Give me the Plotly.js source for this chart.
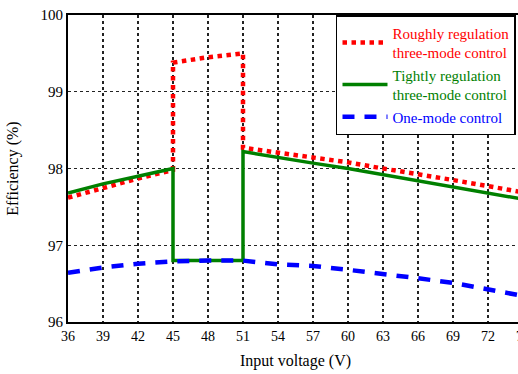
<!DOCTYPE html>
<html><head><meta charset="utf-8">
<script src="https://cdn.plot.ly/plotly-3.0.1.min.js"></script>
<style>html,body{margin:0;padding:0;overflow:hidden;background:#fff}#plot{width:530px;height:374px}</style>
</head><body><div id="plot"></div>
<script>
const roughX = [36, 39, 42, 45, 45, 48, 51, 51, 54, 57, 60, 63, 66, 69, 72, 75];
const roughY = [97.62, 97.75, 97.87, 97.98, 99.38, 99.45, 99.5, 98.27, 98.21, 98.15, 98.08, 98.0, 97.93, 97.85, 97.77, 97.69];
const tightX = [36, 39, 42, 45, 45, 48, 51, 51, 54, 57, 60, 63, 66, 69, 72, 75];
const tightY = [97.68, 97.8, 97.9, 98.0, 96.8, 96.8, 96.8, 98.22, 98.14, 98.07, 98.0, 97.92, 97.84, 97.76, 97.68, 97.6];
const oneX = [36, 39, 42, 45, 48, 51, 54, 57, 60, 63, 66, 69, 72, 75];
const oneY = [96.64, 96.71, 96.76, 96.79, 96.8, 96.8, 96.75, 96.73, 96.68, 96.63, 96.57, 96.51, 96.43, 96.34];
const xTicks = [36, 39, 42, 45, 48, 51, 54, 57, 60, 63, 66, 69, 72, 75];
const yTicks = [96, 97, 98, 99, 100];

const serif = "Times New Roman";
const traces = [
  {x: roughX, y: roughY, mode: 'lines', line: {color: '#ff0000', width: 4.5, dash: 'dot'},
   name: "<span style='color:#ff0000'>Roughly regulation</span><br><span style='color:#ff0000'>three-mode control</span>"},
  {x: tightX, y: tightY, mode: 'lines', line: {color: '#008000', width: 3.5},
   name: "<span style='color:#008000'>Tightly regulation</span><br><span style='color:#008000'>three-mode control</span>"},
  {x: oneX, y: oneY, mode: 'lines', line: {color: '#0000ff', width: 4.5, dash: '12px,10px'},
   name: "<span style='color:#0000ff'>One-mode control</span>"}
];
const layout = {
  width: 530, height: 374,
  margin: {l: 68, r: 7, t: 15, b: 52},
  paper_bgcolor: '#fff', plot_bgcolor: '#fff',
  font: {family: serif, size: 14, color: '#000'},
  showlegend: true,
  legend: {x: 0.589, y: 1, xanchor: 'left', yanchor: 'top', bordercolor: '#000', borderwidth: 1.5,
           bgcolor: '#fff', font: {family: serif, size: 15}, itemwidth: 45, tracegroupgap: 8},
  xaxis: {range: [36, 75], tickvals: xTicks, ticktext: xTicks.map(String), showgrid: true,
          gridcolor: '#222', griddash: 'dot', gridwidth: 1.3, showline: true, linecolor: '#000', linewidth: 2,
          mirror: true, zeroline: false, ticks: '', tickfont: {family: serif, size: 14},
          title: {text: 'Input voltage (V)', font: {family: serif, size: 16}, standoff: 12}},
  yaxis: {range: [96, 100], tickvals: yTicks, ticktext: yTicks.map(String), showgrid: true,
          gridcolor: '#222', griddash: 'dot', gridwidth: 1.3, showline: true, linecolor: '#000', linewidth: 2,
          mirror: true, zeroline: false, ticks: '', tickfont: {family: serif, size: 15},
          title: {text: 'Efficiency (%)', font: {family: serif, size: 16}, standoff: 18}}
};
Plotly.newPlot('plot', traces, layout, {displayModeBar: false, staticPlot: true});
</script></body></html>
